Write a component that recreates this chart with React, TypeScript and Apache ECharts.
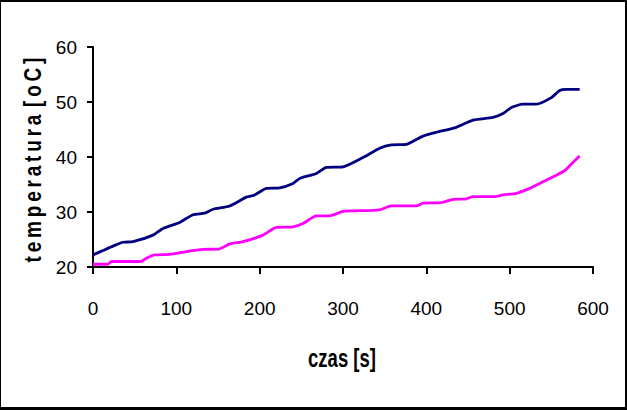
import React, { useEffect, useRef } from "react";
import * as echarts from "echarts";

const timeBlue = [0, 12, 24, 36, 48, 72, 84, 104, 120, 134, 144, 164, 184, 194, 208, 224, 240, 248, 268, 280, 300, 324, 344, 358, 376, 396, 412, 436, 456, 480, 492, 502, 516, 532, 550, 560, 568, 584];
const tempBlue = [22.2, 23.0, 23.8, 24.5, 24.6, 25.8, 27.0, 28.1, 29.5, 29.8, 30.5, 31.1, 32.7, 33.1, 34.3, 34.4, 35.2, 36.1, 37.0, 38.1, 38.2, 39.9, 41.6, 42.2, 42.3, 43.8, 44.5, 45.4, 46.7, 47.2, 47.9, 49.0, 49.6, 49.6, 50.8, 52.1, 52.3, 52.3];

const timeMagenta = [0, 18, 22, 58, 64, 74, 92, 112, 132, 152, 164, 180, 204, 220, 240, 252, 268, 284, 300, 312, 344, 358, 388, 396, 418, 432, 448, 456, 482, 492, 508, 524, 540, 556, 566, 572, 584];
const tempMagenta = [20.5, 20.5, 21.0, 21.0, 21.6, 22.2, 22.3, 22.8, 23.2, 23.3, 24.2, 24.6, 25.8, 27.2, 27.3, 27.9, 29.3, 29.3, 30.1, 30.2, 30.4, 31.1, 31.1, 31.6, 31.7, 32.3, 32.4, 32.8, 32.8, 33.1, 33.4, 34.3, 35.5, 36.7, 37.5, 38.4, 40.2];

const xTitle = "czas [s]";
const yTitle = "temperatura [oC]";

const FONT = "'Liberation Sans', Arial, sans-serif";

export default function App() {
  const ref = useRef<HTMLDivElement>(null);
  useEffect(() => {
    if (!ref.current) return;
    const chart = echarts.init(ref.current, null, { renderer: "svg" });
    const spaced = yTitle.replace(/ /g, "").split("").join("\u2009").replace("a\u2009[", "a\u2009\u2009[");
    chart.setOption({
      animation: false,
      backgroundColor: "#ffffff",
      grid: { left: 93, right: 34, top: 47, bottom: 143, containLabel: false },
      xAxis: {
        type: "value",
        min: 0,
        max: 600,
        interval: 100,
        axisLine: { show: true, lineStyle: { color: "#000", width: 2 } },
        axisTick: { show: true, length: 7, lineStyle: { color: "#000", width: 2 } },
        axisLabel: { color: "#000", fontFamily: FONT, fontSize: 19, margin: 32 },
        splitLine: { show: false },
      },
      yAxis: {
        type: "value",
        min: 20,
        max: 60,
        interval: 10,
        axisLine: { show: true, lineStyle: { color: "#000", width: 2 } },
        axisTick: { show: true, length: 6, lineStyle: { color: "#000", width: 2 } },
        axisLabel: { color: "#000", fontFamily: FONT, fontSize: 19, margin: 16 },
        splitLine: { show: false },
      },
      series: [
        {
          type: "line",
          data: timeBlue.map((t, i) => [t, tempBlue[i]]),
          showSymbol: false,
          smooth: 0.2,
          lineStyle: { color: "#000080", width: 2.8 },
          itemStyle: { color: "#000080" },
        },
        {
          type: "line",
          data: timeMagenta.map((t, i) => [t, tempMagenta[i]]),
          showSymbol: false,
          smooth: 0.2,
          lineStyle: { color: "#ff00ff", width: 2.8 },
          itemStyle: { color: "#ff00ff" },
        },
      ],
      graphic: [
        {
          type: "text",
          x: 342,
          y: 358,
          scaleY: 1.4,
          style: {
            text: xTitle,
            fontFamily: FONT,
            fontWeight: "bold",
            fontSize: 18.5,
            fill: "#000",
            align: "center",
            verticalAlign: "middle",
          },
        },
        {
          type: "text",
          x: 33,
          y: 160,
          rotation: Math.PI / 2,
          scaleY: 1.25,
          style: {
            text: spaced,
            fontFamily: FONT,
            fontWeight: "bold",
            fontSize: 19,
            fill: "#000",
            align: "center",
            verticalAlign: "middle",
          },
        },
        { type: "line", shape: { x1: 0.5, y1: 0, x2: 0.5, y2: 410 }, style: { stroke: "#000", lineWidth: 1 } },
        { type: "line", shape: { x1: 0, y1: 1, x2: 627, y2: 1 }, style: { stroke: "#000", lineWidth: 2 } },
        { type: "line", shape: { x1: 626, y1: 0, x2: 626, y2: 410 }, style: { stroke: "#000", lineWidth: 2 } },
        { type: "line", shape: { x1: 0, y1: 408.5, x2: 627, y2: 408.5 }, style: { stroke: "#000", lineWidth: 3 } },
      ],
    });
    return () => chart.dispose();
  }, []);
  return <div ref={ref} style={{ position: "absolute", left: 0, top: 0, width: 627, height: 410 }} />;
}
